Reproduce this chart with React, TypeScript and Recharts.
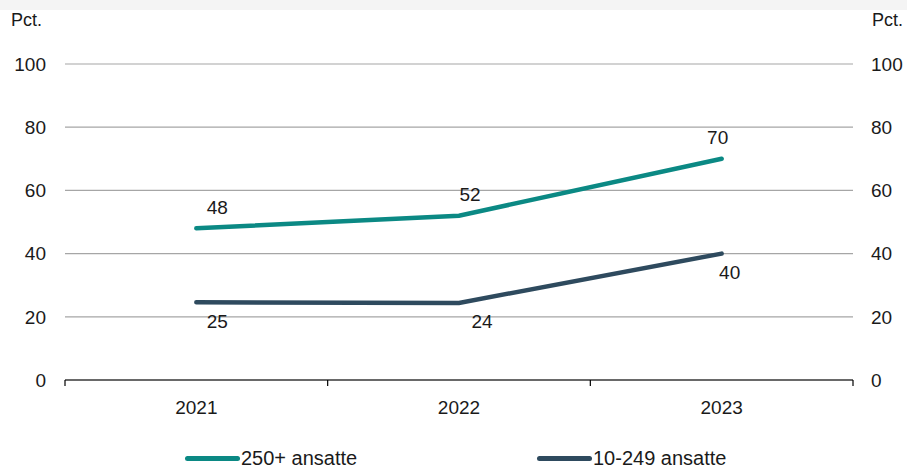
import React from "react";
import { LineChart, Line, XAxis, YAxis, CartesianGrid, Legend, LabelList } from "recharts";

const years = ["2021", "2022", "2023"];
const large = [48, 52, 70];
const small = [24.6, 24.4, 40];
const yTicks = [0, 20, 40, 60, 80, 100];
const seriesNames = ["250+ ansatte", "10-249 ansatte"];

const data = years.map((y, i) => ({ year: y, large: large[i], small: small[i] }));

const TEAL = "#0b8984";
const NAVY = "#2e4a5e";
const FONT = "'Liberation Sans', Arial, sans-serif";
const FS = 19;

const largeLabelDx = [21, 11, -4];
const smallLabelDx = [21, 23, 8];

const XTick = (props: any) => {
  const { x, y, payload, index } = props;
  const off = payload && typeof payload.offset === "number" ? payload.offset : 0;
  const last = index === years.length - 1;
  return (
    <g>
      <line x1={x - off} x2={x - off} y1={y} y2={y + 6} stroke="#000" strokeWidth={1.2} />
      {last && <line x1={x + off} x2={x + off} y1={y} y2={y + 6} stroke="#000" strokeWidth={1.2} />}
      <text x={x} y={y + 27} textAnchor="middle" dominantBaseline="central" fontSize={FS} fill="#1a1a1a" fontFamily={FONT}>
        {payload.value}
      </text>
    </g>
  );
};

const makeLabel = (dxs: number[], dy: number) => (props: any) => {
  const { x, y, value, index } = props;
  return (
    <text x={x + dxs[index]} y={y + dy} textAnchor="middle" dominantBaseline="central" fontSize={FS} fill="#1a1a1a" fontFamily={FONT}>
      {Math.round(Number(value))}
    </text>
  );
};

const PctLabel = (side: "left" | "right") => (props: any) => {
  const vb = props.viewBox || {};
  const x = side === "left" ? vb.x + 11 : vb.x + 19;
  return (
    <text x={x} y={vb.y - 44} dominantBaseline="central" fontSize={18} fill="#1a1a1a" fontFamily={FONT}>
      Pct.
    </text>
  );
};

const LegendContent = () => (
  <div style={{ width: 907, height: 24, display: "flex", alignItems: "center", fontFamily: FONT, fontSize: 20, color: "#1a1a1a" }}>
    <div style={{ marginLeft: 185, width: 352, display: "flex", alignItems: "center" }}>
      <span style={{ display: "inline-block", width: 55, height: 5, borderRadius: 3, background: TEAL }} />
      <span style={{ marginLeft: 1 }}>{seriesNames[0]}</span>
    </div>
    <div style={{ display: "flex", alignItems: "center" }}>
      <span style={{ display: "inline-block", width: 55, height: 5, borderRadius: 3, background: NAVY }} />
      <span style={{ marginLeft: 1 }}>{seriesNames[1]}</span>
    </div>
  </div>
);

export default function App() {
  return (
    <div style={{ position: "absolute", left: 0, top: 0, width: 907, height: 467, background: "#fff", overflow: "hidden" }}>
      <div style={{ position: "absolute", left: 0, top: 0, width: 907, height: 10, background: "#f4f4f4" }} />
      <LineChart width={907} height={467} data={data} margin={{ top: 64, right: 0, bottom: 0, left: 0 }}>
        <CartesianGrid yAxisId="left" horizontal vertical={false} stroke="#a6a6a6" strokeWidth={1.2} />
        <XAxis
          dataKey="year"
          scale="band"
          height={63}
          axisLine={{ stroke: "#000", strokeWidth: 1.2 }}
          tickLine={false}
          tickSize={0}
          tickMargin={0}
          tick={<XTick />}
          interval={0}
        />
        <YAxis
          yAxisId="left"
          orientation="left"
          width={65}
          domain={[0, 100]}
          ticks={yTicks}
          axisLine={false}
          tickLine={false}
          tickMargin={13}
          tick={{ fontSize: FS, fill: "#1a1a1a", fontFamily: FONT }}
          label={PctLabel("left")}
        />
        <YAxis
          yAxisId="right"
          orientation="right"
          width={54}
          domain={[0, 100]}
          ticks={yTicks}
          axisLine={false}
          tickLine={false}
          tickMargin={12}
          tick={{ fontSize: FS, fill: "#1a1a1a", fontFamily: FONT }}
          label={PctLabel("right")}
        />
        <Legend verticalAlign="bottom" content={<LegendContent />} wrapperStyle={{ bottom: -3, left: 0 }} />
        <Line yAxisId="left" type="linear" dataKey="large" name={seriesNames[0]} stroke={TEAL} strokeWidth={4.5} strokeLinecap="round" dot={false} isAnimationActive={false}>
          <LabelList dataKey="large" content={makeLabel(largeLabelDx, -21)} />
        </Line>
        <Line yAxisId="right" type="linear" dataKey="small" name={seriesNames[1]} stroke={NAVY} strokeWidth={4.5} strokeLinecap="round" dot={false} isAnimationActive={false}>
          <LabelList dataKey="small" content={makeLabel(smallLabelDx, 19)} />
        </Line>
      </LineChart>
    </div>
  );
}
